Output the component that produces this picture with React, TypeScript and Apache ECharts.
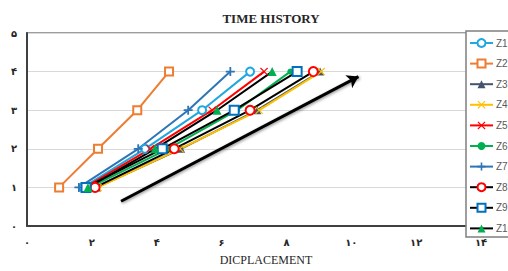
import React, { useEffect, useRef } from "react";
import * as echarts from "echarts";

const floors = [1, 2, 3, 4];
const seriesNames = ["Z1", "Z2", "Z3", "Z4", "Z5", "Z6", "Z7", "Z8", "Z9", "Z10"];
const z1 = [1.73, 3.64, 5.4, 6.88];
const z2 = [0.99, 2.19, 3.4, 4.38];
const z3 = [2.16, 4.75, 7.1, 9.04];
const z4 = [2.19, 4.72, 7.16, 9.07];
const z5 = [1.79, 3.8, 5.71, 7.31];
const z6 = [1.94, 4.35, 6.48, 8.12];
const z7 = [1.6, 3.43, 4.97, 6.27];
const z8 = [2.1, 4.54, 6.88, 8.83];
const z9 = [1.82, 4.17, 6.39, 8.33];
const z10 = [1.88, 3.95, 5.86, 7.56];
const seriesValues = [z1, z2, z3, z4, z5, z6, z7, z8, z9, z10];
const xTickLabels = ["۰", "۲", "۴", "۶", "۸", "۱۰", "۱۲", "۱۴"];
const yTickLabels = ["۰", "۱", "۲", "۳", "۴", "۵"];
const arrowStart = [2.9, 0.64];
const arrowEnd = [10.22, 3.87];

const PLUS = "path://M4,0H6V4H10V6H6V10H4V6H0V4H4Z";
const CROSS = "path://M1,0L5,4L9,0L10,1L6,5L10,9L9,10L5,6L1,10L0,9L4,5L0,1Z";

const styles = [
  { line: "#1FA8E0", marker: "emptyCircle", mColor: "#1FA8E0", size: 8, bw: 2 },
  { line: "#ED7D31", marker: "emptyRect", mColor: "#ED7D31", size: 8, bw: 2 },
  { line: "#44546A", marker: "triangle", mColor: "#44546A", size: 8, bw: 0 },
  { line: "#FFC000", marker: CROSS, mColor: "#FFC000", size: 8, bw: 0 },
  { line: "#FF0000", marker: CROSS, mColor: "#FF0000", size: 8, bw: 0 },
  { line: "#00B050", marker: "circle", mColor: "#00B050", size: 6, bw: 0 },
  { line: "#2E75B6", marker: PLUS, mColor: "#2E75B6", size: 9, bw: 0 },
  { line: "#000000", marker: "emptyCircle", mColor: "#FF0000", size: 9, bw: 3 },
  { line: "#000000", marker: "emptyRect", mColor: "#0070C0", size: 9, bw: 3 },
  { line: "#000000", marker: "triangle", mColor: "#00B050", size: 9, bw: 0 },
];

export default function App() {
  const ref = useRef<HTMLDivElement>(null);
  useEffect(() => {
    if (!ref.current) return;
    const chart = echarts.init(ref.current, null, { renderer: "svg" });
    const series: any[] = seriesNames.map((name, i) => {
      const s = styles[i];
      const empty = s.marker.startsWith("empty");
      const obj: any = {
        name,
        type: "line",
        data: seriesValues[i].map((v, j) => [v, floors[j]]),
        symbol: s.marker,
        symbolSize: s.size,
        showAllSymbol: true,
        lineStyle: { color: s.line, width: 2 },
        itemStyle: empty
          ? { color: s.mColor, borderColor: s.mColor, borderWidth: s.bw }
          : { color: s.mColor, borderWidth: 0 },
        z: 3,
      };
      if (i === seriesNames.length - 1) {
        obj.markLine = {
          silent: true,
          symbol: ["none", "arrow"],
          symbolSize: 11,
          label: { show: false },
          lineStyle: {
            color: "#000000",
            width: 3,
            type: "solid",
            shadowBlur: 3,
            shadowColor: "rgba(0,0,0,0.45)",
            shadowOffsetX: 1,
            shadowOffsetY: 1,
          },
          data: [[{ coord: arrowStart }, { coord: arrowEnd }]],
        };
      }
      return obj;
    });
    chart.setOption({
      animation: false,
      backgroundColor: "#ffffff",
      title: {
        text: "TIME HISTORY",
        left: 266,
        top: 7,
        textAlign: "center",
        textStyle: {
          fontFamily: "Liberation Serif",
          fontWeight: "bold",
          fontSize: 13,
          color: "#262626",
        },
      },
      grid: {
        left: 27,
        right: 27,
        top: 33,
        bottom: 34,
        show: true,
        borderColor: "#7f7f7f",
        borderWidth: 1.5,
      },
      xAxis: {
        type: "value",
        min: 0,
        max: 14,
        interval: 2,
        name: "DICPLACEMENT",
        nameLocation: "middle",
        nameGap: 28,
        nameTextStyle: {
          fontFamily: "Liberation Serif",
          fontSize: 12,
          color: "#262626",
          padding: [0, 0, 0, 24],
        },
        axisLine: { show: true, lineStyle: { color: "#404040", width: 2 } },
        axisTick: { show: false },
        splitLine: { show: false },
        axisLabel: {
          margin: 11,
          fontFamily: "DejaVu Sans",
          fontSize: 10,
          fontWeight: "bold",
          color: "#262626",
          formatter: (v: number) => xTickLabels[Math.round(v / 2)] ?? "",
        },
      },
      yAxis: {
        type: "value",
        min: 0,
        max: 5,
        interval: 1,
        axisLine: { show: true, lineStyle: { color: "#404040", width: 2 } },
        axisTick: { show: false },
        splitLine: { show: true, lineStyle: { color: "#d9d9d9", width: 1 } },
        axisLabel: {
          margin: 10,
          fontFamily: "DejaVu Sans",
          fontSize: 10,
          fontWeight: "bold",
          color: "#262626",
          formatter: (v: number) => yTickLabels[Math.round(v)] ?? "",
        },
      },
      legend: {
        data: seriesNames,
        orient: "vertical",
        left: 469,
        top: 37,
        padding: 0,
        itemWidth: 23,
        itemHeight: 10,
        itemGap: 8.6,
        textStyle: {
          fontFamily: "Liberation Sans",
          fontSize: 10,
          lineHeight: 12,
          color: "#595959",
          padding: [0, 0, 0, -2],
        },
        z: 10,
      },
      graphic: [
        {
          type: "rect",
          z: 8,
          shape: { x: 466, y: 31, width: 60, height: 206 },
          style: { fill: "#ffffff", stroke: "#7f7f7f", lineWidth: 1.5 },
        },
      ],
      series,
    });
    return () => chart.dispose();
  }, []);
  return (
    <div
      ref={ref}
      style={{ position: "absolute", left: 0, top: 0, width: 508, height: 271 }}
    />
  );
}
